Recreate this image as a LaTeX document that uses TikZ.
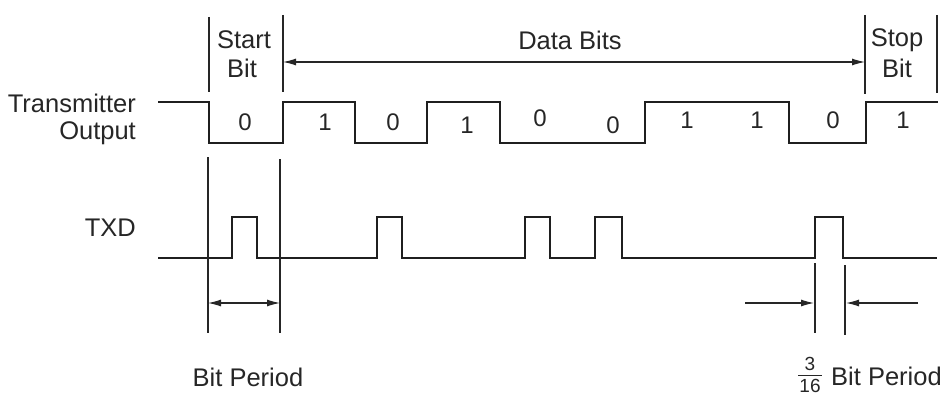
\documentclass[tikz,border=0pt]{standalone}
\usepackage{fontspec}
\setmainfont{Liberation Sans}
\usetikzlibrary{arrows.meta}
\begin{document}
\begin{tikzpicture}[x=1pt,y=-1pt,
  sig/.style={line width=2.8pt, line join=miter, color=black!88},
  thin/.style={line width=1.1pt, color=black!85},
  dim/.style={line width=1.1pt, color=black!85, -{Latex[length=13pt,width=7pt]}},
  lab/.style={font=\fontsize{25.5}{30}\selectfont, inner sep=0pt, text=black!85},
  bitlab/.style={font=\fontsize{24}{28}\selectfont, inner sep=0pt, text=black!85},
  fr/.style={font=\fontsize{19}{21}\selectfont, inner sep=0pt, text=black!85}]
\useasboundingbox (0,0) rectangle (949,396);

% labels on the left
\node[lab, anchor=east] (tx1) at (136,103) {Transmitter};
\node[lab, anchor=east] (tx2) at (136,133) {Output};
\node[lab, anchor=east] (txd) at (136,228) {TXD};

% top labels
\node[lab] (st1) at (244,40) {Start};
\node[lab] (st2) at (242,68) {Bit};
\node[lab] (db) at (570,40) {Data Bits};
\node[lab] (sp1) at (897,40) {Stop};
\node[lab] (sp2) at (897,68) {Bit};

% marker lines at top
\coordinate (a1) at (209,17); \coordinate (a2) at (209,92);
\coordinate (b1) at (283,15); \coordinate (b2) at (283,92);
\coordinate (c1) at (865,15); \coordinate (c2) at (865,94);
\coordinate (d1) at (937,15); \coordinate (d2) at (937,93);
\draw[thin] (a1) -- (a2);
\draw[thin] (b1) -- (b2);
\draw[thin] (c1) -- (c2);
\draw[thin] (d1) -- (d2);
\coordinate (dl) at (283,62); \coordinate (dr) at (865,62);
\draw[dim, {Latex[length=13pt,width=7pt]}-{Latex[length=13pt,width=7pt]}] (dl) -- (dr);

% transmitter output waveform
\draw[sig] (158,102) -- (209,102) -- (209,143) -- (283,143) -- (283,102)
  -- (355,102) -- (355,143) -- (427,143) -- (427,102) -- (500,102)
  -- (500,143) -- (645,143) -- (645,102) -- (789,102) -- (789,143)
  -- (866,143) -- (866,102) -- (938,102);

% bit values
\node[bitlab] (v0) at (245,122) {0};
\node[bitlab] (v1) at (325,122) {1};
\node[bitlab] (v2) at (393,122) {0};
\node[bitlab] (v3) at (467,125) {1};
\node[bitlab] (v4) at (540,118) {0};
\node[bitlab] (v5) at (613,125) {0};
\node[bitlab] (v6) at (687,120) {1};
\node[bitlab] (v7) at (757,120) {1};
\node[bitlab] (v8) at (833,120) {0};
\node[bitlab] (v9) at (903,120) {1};

% TXD waveform
\draw[sig] (158,258) -- (232,258) -- (232,217) -- (257,217) -- (257,258)
  -- (377,258) -- (377,217) -- (402,217) -- (402,258)
  -- (525,258) -- (525,217) -- (550,217) -- (550,258)
  -- (595,258) -- (595,217) -- (622,217) -- (622,258)
  -- (815,258) -- (815,217) -- (843,217) -- (843,258)
  -- (937,258);

% bit period markers
\coordinate (e1) at (208,157); \coordinate (e2) at (208,333);
\coordinate (f1) at (280,159); \coordinate (f2) at (280,333);
\draw[thin] (e1) -- (e2);
\draw[thin] (f1) -- (f2);
\coordinate (bl) at (208,303); \coordinate (br) at (280,303);
\draw[dim, {Latex[length=13pt,width=7pt]}-{Latex[length=13pt,width=7pt]}] (bl) -- (br);
\node[lab] (bp) at (248,377) {Bit Period};

% 3/16 markers
\coordinate (g1) at (815,263); \coordinate (g2) at (815,333);
\coordinate (h1) at (845,265); \coordinate (h2) at (845,335);
\draw[thin] (g1) -- (g2);
\draw[thin] (h1) -- (h2);
\coordinate (gl) at (745,303); \coordinate (gr) at (814,303);
\coordinate (hr) at (918,303); \coordinate (hl) at (846,303);
\draw[dim] (gl) -- (gr);
\draw[dim] (hr) -- (hl);

% 3/16 Bit Period
\node[fr] (n3) at (810,364) {3};
\node[fr] (n16) at (810,386) {16};
\coordinate (fb1) at (798,375.5); \coordinate (fb2) at (822,375.5);
\draw[line width=1.3pt, black!85] (fb1) -- (fb2);
\node[lab, anchor=west] (bp2) at (831,376) {Bit Period};
\end{tikzpicture}
\end{document}
